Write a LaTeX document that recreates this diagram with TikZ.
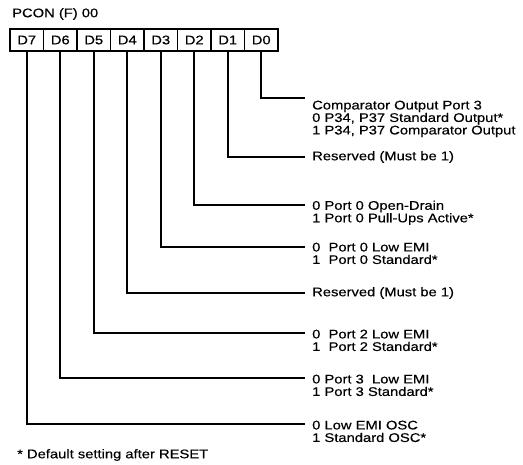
\documentclass[tikz,border=0pt]{standalone}
\usepackage{fontspec}
\setmainfont{Liberation Sans}[FakeStretch=1.18,FakeBold=0.4]
\begin{document}
\begin{tikzpicture}[x=1pt,y=-1pt,
  bitbox/.style={draw, line width=1.3pt, minimum width=33.5pt, minimum height=22pt, inner sep=0pt, font=\fontsize{12.5}{12.5}\selectfont},
  conn/.style={line width=1.8pt},
  lbl/.style={inner sep=0pt, align=left, font=\fontsize{12.5}{12.5}\selectfont},
]
\useasboundingbox (0,0) rectangle (523,465);
\node[lbl, anchor=west] (title) at (12,14) {PCON (F) 00};
\foreach \i/\n in {0/7,1/6,2/5,3/4,4/3,5/2,6/1,7/0} {
  \node[bitbox] (d\n) at ({26.75+33.5*\i},40) {D\n};
}
% ends of connectors
\coordinate (e0) at (305,98);
\coordinate (e1) at (305,157);
\coordinate (e2) at (305,205);
\coordinate (e3) at (305,247);
\coordinate (e4) at (305,293);
\coordinate (e5) at (305,333);
\coordinate (e6) at (305,378);
\coordinate (e7) at (305,424);
\foreach \n in {0,...,7} { \draw[conn] (d\n.south) |- (e\n); }
% labels
\node[lbl, anchor=north west] (t0) at (312,100.5) {Comparator Output Port 3\\0 P34, P37 Standard Output*\\1 P34, P37 Comparator Output};
\node[lbl, anchor=west] (t1) at (312,157) {Reserved (Must be 1)};
\node[lbl, anchor=north west] (t2) at (312,200.5) {0 Port 0 Open-Drain\\1 Port 0 Pull-Ups Active*};
\node[lbl, anchor=north west] (t3) at (312,242.5) {0\ \ Port 0 Low EMI\\1\ \ Port 0 Standard*};
\node[lbl, anchor=west] (t4) at (312,293) {Reserved (Must be 1)};
\node[lbl, anchor=north west] (t5) at (312,329.5) {0\ \ Port 2 Low EMI\\1\ \ Port 2 Standard*};
\node[lbl, anchor=north west] (t6) at (312,374.5) {0 Port 3\ \ Low EMI\\1 Port 3 Standard*};
\node[lbl, anchor=north west] (t7) at (312,420.5) {0 Low EMI OSC\\1 Standard OSC*};
\node[lbl, anchor=west] (note) at (17,455) {* Default setting after RESET};
\end{tikzpicture}
\end{document}
